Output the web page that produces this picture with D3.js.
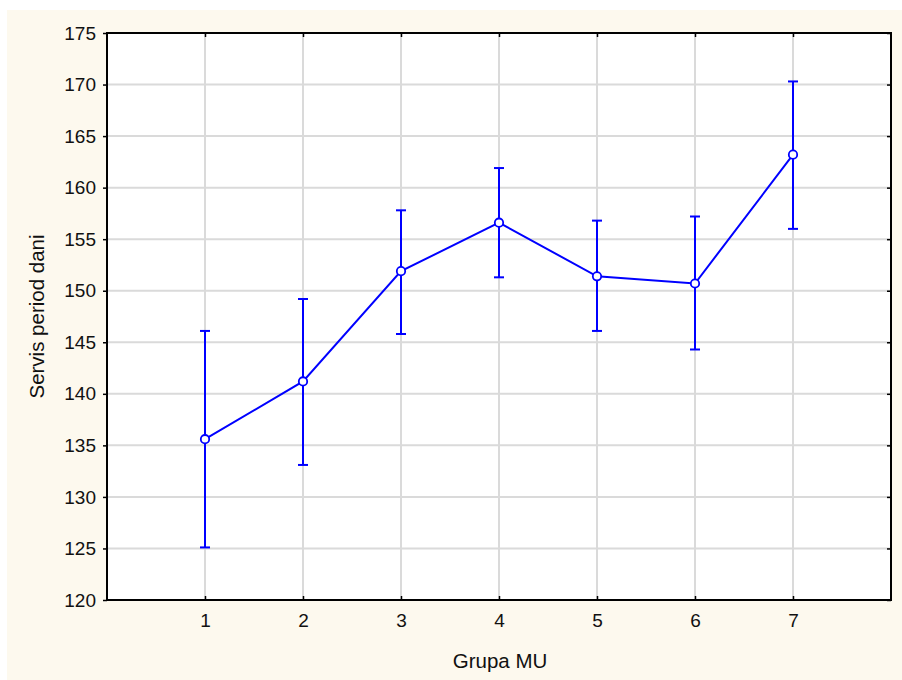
<!DOCTYPE html>
<html><head><meta charset="utf-8">
<script src="https://cdn.jsdelivr.net/npm/d3@7"></script>
<style>html,body{margin:0;padding:0;background:#fff;}svg{display:block;}</style>
</head><body>
<script>
const categories = [1, 2, 3, 4, 5, 6, 7];
const means = [135.6, 141.2, 151.9, 156.6, 151.4, 150.7, 163.2];
const upper = [146.1, 149.2, 157.8, 161.9, 156.8, 157.2, 170.3];
const lower = [125.1, 133.1, 145.8, 151.3, 146.1, 144.3, 156.0];
const yTicks = [120, 125, 130, 135, 140, 145, 150, 155, 160, 165, 170, 175];
const xLabel = "Grupa MU";
const yLabel = "Servis period dani";

const W = 902, H = 680;
const m = {left: 107, top: 33, right: 891, bottom: 600};
const svg = d3.select("body").append("svg").attr("width", W).attr("height", H);
svg.append("rect").attr("x", 7).attr("y", 10).attr("width", W - 7).attr("height", H - 10).attr("fill", "#fdf9ee");
svg.append("rect").attr("x", m.left).attr("y", m.top).attr("width", m.right - m.left).attr("height", m.bottom - m.top).attr("fill", "#fff");

const x = d3.scaleLinear().domain([0, 8]).range([m.left, m.right]);
const y = d3.scaleLinear().domain([120, 175]).range([m.bottom, m.top]);
const font = "'Liberation Sans', Arial, sans-serif";

// grid
svg.append("g").selectAll("line.h").data(yTicks.slice(1, -1)).join("line")
  .attr("x1", m.left).attr("x2", m.right).attr("y1", d => y(d)).attr("y2", d => y(d))
  .attr("stroke", "#dadada").attr("stroke-width", 2);
svg.append("g").selectAll("line.v").data(categories).join("line")
  .attr("x1", d => x(d)).attr("x2", d => x(d)).attr("y1", m.top).attr("y2", m.bottom)
  .attr("stroke", "#dadada").attr("stroke-width", 2);

// axes
const yAxisL = d3.axisLeft(y).tickValues(yTicks).tickSize(4).tickPadding(7);
const gL = svg.append("g").attr("transform", `translate(${m.left},0)`).call(yAxisL);
const yAxisR = d3.axisLeft(y).tickValues(yTicks).tickSize(4).tickFormat("");
const gR = svg.append("g").attr("transform", `translate(${m.right},0)`).call(yAxisR);
const xAxisB = d3.axisTop(x).tickValues(categories).tickSize(4).tickFormat("");
const gB = svg.append("g").attr("transform", `translate(0,${m.bottom})`).call(xAxisB);
const xAxisT = d3.axisBottom(x).tickValues(categories).tickSize(4).tickFormat("");
const gT = svg.append("g").attr("transform", `translate(0,${m.top})`).call(xAxisT);
[gL, gR, gB, gT].forEach(g => {
  g.select(".domain").remove();
  g.selectAll(".tick line").attr("stroke", "#000").attr("stroke-width", 1.5);
});
gL.selectAll(".tick text").attr("font-family", font).attr("font-size", 19).attr("fill", "#111");
// x tick labels
const xLabAxis = d3.axisBottom(x).tickValues(categories).tickSize(0).tickPadding(14);
const gX = svg.append("g").attr("transform", `translate(0,${m.bottom})`).call(xLabAxis);
gX.select(".domain").remove();
gX.selectAll(".tick text").attr("font-family", font).attr("font-size", 19).attr("fill", "#111");

// frame
svg.append("rect").attr("x", m.left).attr("y", m.top).attr("width", m.right - m.left).attr("height", m.bottom - m.top)
  .attr("fill", "none").attr("stroke", "#000").attr("stroke-width", 2);

// error bars
const blue = "#0000ff";
const eb = svg.append("g").attr("stroke", blue).attr("stroke-width", 2);
categories.forEach((c, i) => {
  eb.append("line").attr("x1", x(c)).attr("x2", x(c)).attr("y1", y(lower[i])).attr("y2", y(upper[i]));
  eb.append("line").attr("x1", x(c) - 5).attr("x2", x(c) + 5).attr("y1", y(lower[i])).attr("y2", y(lower[i]));
  eb.append("line").attr("x1", x(c) - 5).attr("x2", x(c) + 5).attr("y1", y(upper[i])).attr("y2", y(upper[i]));
});
const line = d3.line().x((d, i) => x(categories[i])).y(d => y(d));
svg.append("path").datum(means).attr("d", line).attr("fill", "none").attr("stroke", blue).attr("stroke-width", 2);
svg.append("g").selectAll("circle").data(means).join("circle")
  .attr("cx", (d, i) => x(categories[i])).attr("cy", d => y(d)).attr("r", 4.2)
  .attr("fill", "#fff").attr("stroke", blue).attr("stroke-width", 1.8);

// titles
svg.append("text").attr("x", (m.left + m.right) / 2 + 1).attr("y", 668).attr("text-anchor", "middle")
  .attr("font-family", font).attr("font-size", 20.5).attr("fill", "#111").text(xLabel);
svg.append("text").attr("transform", `translate(44,${(m.top + m.bottom) / 2}) rotate(-90)`).attr("text-anchor", "middle")
  .attr("font-family", font).attr("font-size", 20.5).attr("fill", "#111").text(yLabel);
</script>
</body></html>
